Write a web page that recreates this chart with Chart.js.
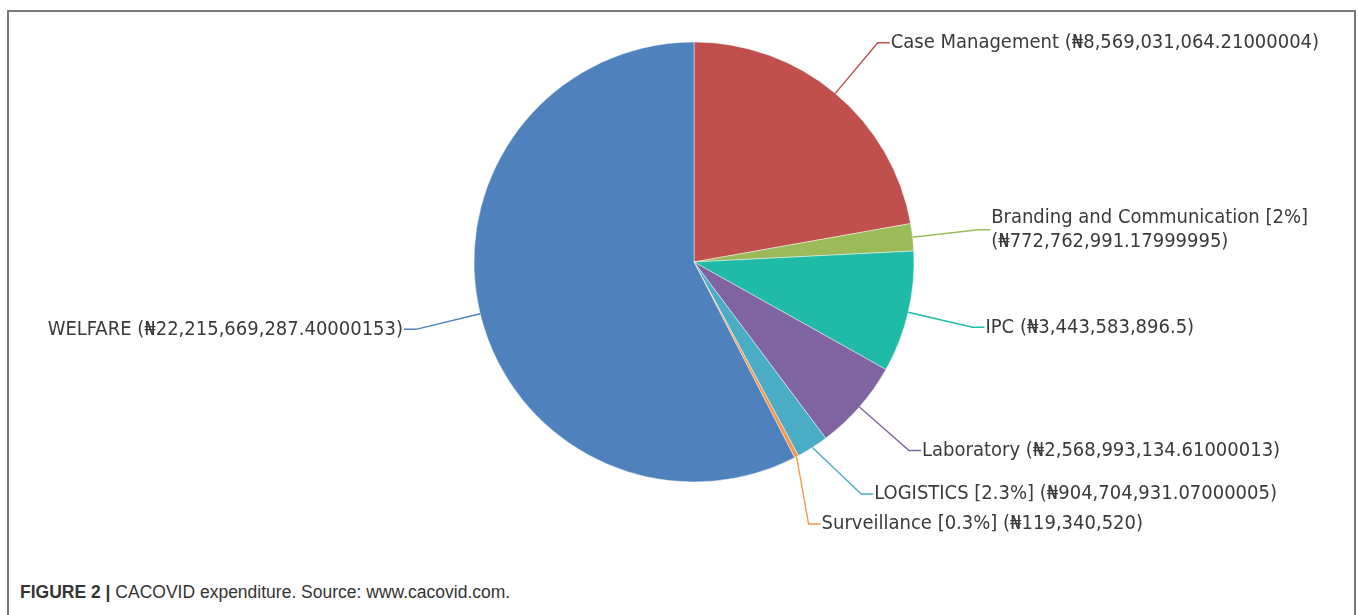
<!DOCTYPE html>
<html>
<head>
<meta charset="utf-8">
<script src="https://cdn.jsdelivr.net/npm/chart.js@4.4.0/dist/chart.umd.min.js"></script>
<style>
  html, body { margin: 0; background: #fff; }
  #frame { position: absolute; left: 7px; top: 10px; width: 1349px; height: 640px; border: 2px solid #777; box-sizing: border-box; }
  #wrap { position: absolute; left: 0; top: 0; width: 1358px; height: 545px; }
  #caption { position: absolute; left: 20px; top: 582px; font: 17.5px "Liberation Sans", Arial, sans-serif; color: #333; white-space: nowrap; }
  #caption b { font-weight: bold; }
</style>
</head>
<body>
<div id="frame"></div>
<div id="wrap"><canvas id="pie" width="1358" height="545"></canvas></div>
<div id="caption"><b>FIGURE 2 |</b> CACOVID expenditure. Source: www.cacovid.com.</div>
<script>
// expenditure by category, in naira
const categories = ["Case Management", "Branding and Communication", "IPC", "Laboratory", "LOGISTICS", "Surveillance", "WELFARE"];
const amounts = [8569031064.21, 772762991.18, 3443583896.5, 2568993134.61, 904704931.07, 119340520, 22215669287.4];
// amounts as printed on the source chart (float noise included)
const amountText = ["8,569,031,064.21000004", "772,762,991.17999995", "3,443,583,896.5", "2,568,993,134.61000013", "904,704,931.07000005", "119,340,520", "22,215,669,287.40000153"];
const shareTags = ["", "2%", "", "", "2.3%", "0.3%", ""];
const colors = ["#C0504D", "#9BBB59", "#1FBBA6", "#8064A2", "#4BACC6", "#F79646", "#4F81BD"];

const LABEL_FONT = '20px "DejaVu Sans Condensed", "DejaVu Sans", sans-serif';
const LINE_H = 24;

function labelText(i) {
  const tag = shareTags[i] ? ` [${shareTags[i]}]` : "";
  return [categories[i] + tag, `(₦${amountText[i]})`];
}

// draws Highcharts-style labels with elbow connectors
const leaderLabels = {
  id: "leaderLabels",
  afterDatasetsDraw(chart) {
    const ctx = chart.ctx;
    const arcs = chart.getDatasetMeta(0).data;
    const cx = arcs[0].x, cy = arcs[0].y, r = arcs[0].outerRadius;
    const R = r + 66;
    ctx.save();
    ctx.font = LABEL_FONT;

    const items = arcs.map((arc, i) => {
      const mid = (arc.startAngle + arc.endAngle) / 2;
      const right = Math.cos(mid) >= 0;
      const y = cy + R * Math.sin(mid);
      const ex = cx + (right ? 1 : -1) * Math.sqrt(Math.max(R * R - (y - cy) ** 2, 0));
      const parts = labelText(i);
      const one = parts.join(" ");
      const room = right ? chart.width - 30 - (ex + 13) : ex - 13 - 20;
      const lines = ctx.measureText(one).width > room ? parts : [one];
      return { i, right, y, lines, ax: cx + r * Math.cos(mid), ay: cy + r * Math.sin(mid) };
    });

    // push apart labels that collide on the same side
    [true, false].forEach(side => {
      const list = items.filter(d => d.right === side).sort((a, b) => a.y - b.y);
      for (let k = 1; k < list.length; k++) {
        const prev = list[k - 1], cur = list[k];
        const need = (prev.lines.length + cur.lines.length) * LINE_H / 2 + 6;
        const gap = cur.y - prev.y;
        if (gap < need) {
          const s = (need - gap) / 2;
          prev.y -= s;
          cur.y += s;
        }
      }
    });

    items.forEach(d => {
      const dir = d.right ? 1 : -1;
      const ex = cx + dir * Math.sqrt(Math.max(R * R - (d.y - cy) ** 2, 0));
      ctx.strokeStyle = colors[d.i];
      ctx.lineWidth = 1.4;
      ctx.beginPath();
      ctx.moveTo(d.ax, d.ay);
      ctx.lineTo(ex, d.y);
      ctx.lineTo(ex + dir * 12, d.y);
      ctx.stroke();

      ctx.fillStyle = "#3a3a3a";
      ctx.textAlign = d.right ? "left" : "right";
      ctx.textBaseline = "middle";
      const n = d.lines.length;
      d.lines.forEach((t, k) => {
        ctx.fillText(t, ex + dir * 13, d.y + (k - (n - 1) / 2) * LINE_H);
      });
    });
    ctx.restore();
  }
};

new Chart(document.getElementById("pie"), {
  type: "pie",
  data: {
    labels: categories,
    datasets: [{
      data: amounts,
      backgroundColor: colors,
      borderColor: "rgba(255,255,255,0.55)",
      borderWidth: 0.8
    }]
  },
  options: {
    responsive: false,
    animation: false,
    radius: 220,
    layout: { padding: { left: 30, right: 0, top: 42, bottom: 63 } },
    plugins: { legend: { display: false }, tooltip: { enabled: false } }
  },
  plugins: [leaderLabels]
});
</script>
</body>
</html>
